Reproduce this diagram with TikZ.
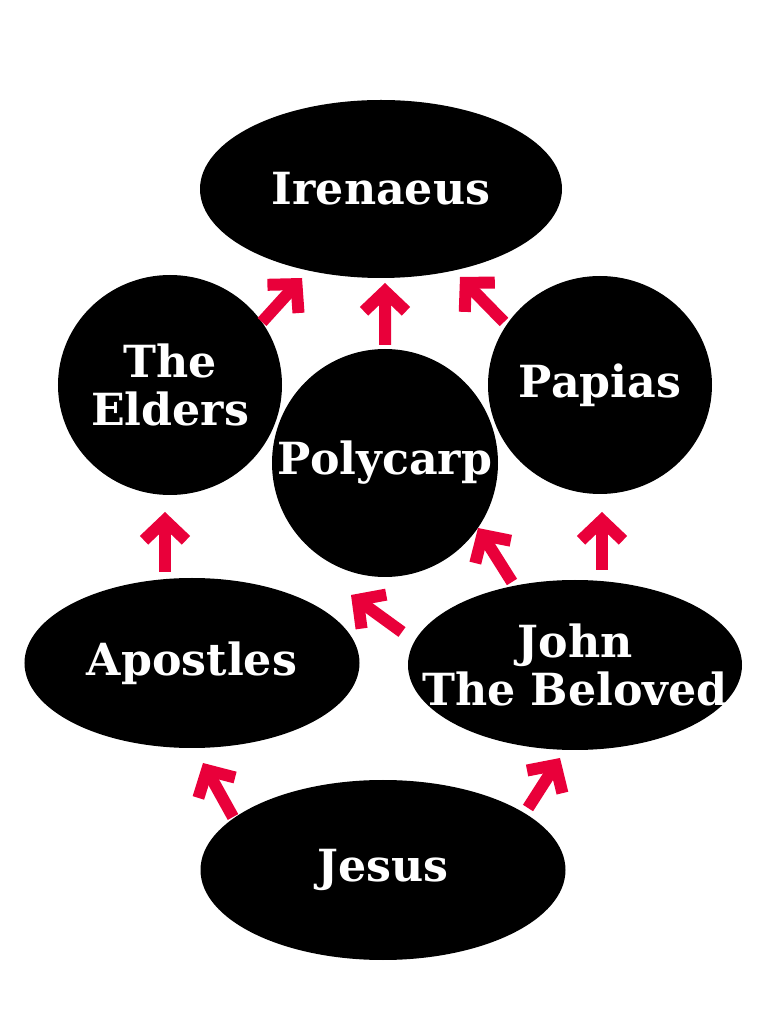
\documentclass[tikz,border=0pt]{standalone}
\usepackage{fontspec}
\setmainfont{DejaVu Serif}
\definecolor{linkred}{RGB}{233, 0, 58}
\usetikzlibrary{shapes.geometric, arrows.meta, calc}
\tikzset{
  person/.style={ellipse, fill=black, inner sep=0pt, outer sep=0pt},
  nametext/.style={text=white, align=center, inner sep=0pt,
    font=\fontsize{12.6}{13.7}\selectfont\bfseries},
  link/.style={draw=linkred, line width=0.12cm,
    -{Straight Barb[sharp, length=0.2cm, width=0.42cm]}}
}
\begin{document}
\begin{tikzpicture}
  \useasboundingbox (0, 0) rectangle (7.68, 10.24);

  % People
  \node[person, minimum width=3.62cm, minimum height=1.78cm, label={[nametext]center:Irenaeus}] (iren) at (3.81, 8.35) {};
  \node[person, minimum width=2.24cm, minimum height=2.20cm, label={[nametext]center:The\\Elders}] (elders) at (1.70, 6.39) {};
  \node[person, minimum width=2.24cm, minimum height=2.18cm, label={[nametext]center:Papias}] (papias) at (6.00, 6.39) {};
  \node[person, minimum width=2.26cm, minimum height=2.28cm, label={[nametext]center:Polycarp}] (poly) at (3.85, 5.61) {};
  \node[person, minimum width=3.35cm, minimum height=1.70cm, label={[nametext]center:Apostles}] (apost) at (1.92, 3.61) {};
  \node[person, minimum width=3.34cm, minimum height=1.70cm, label={[nametext]center:John\\The Beloved}] (john) at (5.75, 3.59) {};
  \node[person, minimum width=3.65cm, minimum height=1.80cm, label={[nametext]center:Jesus}] (jesus) at (3.83, 1.54) {};

  % Links into Irenaeus
  \draw[link] ($(elders)+(0.92, 0.63)$) -- ($(iren)+(-0.79, -0.89)$);
  \draw[link] ($(poly)+(0, 1.18)$) -- ($(iren)+(0.04, -0.94)$);
  \draw[link] ($(papias)+(-0.96, 0.63)$) -- ($(iren)+(0.79, -0.88)$);

  % Middle row
  \draw[link] ($(apost)+(-0.27, 0.91)$) -- ($(elders)+(-0.05, -1.27)$);
  \draw[link] ($(john)+(-1.73, 0.33)$) -- ($(poly)+(-0.34, -1.32)$);
  \draw[link] ($(john)+(-0.63, 0.83)$) -- ($(poly)+(0.93, -0.65)$);
  \draw[link] ($(john)+(0.27, 0.95)$) -- ($(papias)+(0.02, -1.27)$);

  % From Jesus
  \draw[link] ($(jesus)+(-1.50, 0.53)$) -- ($(apost)+(0.11, -1.00)$);
  \draw[link] ($(jesus)+(1.45, 0.62)$) -- ($(john)+(-0.15, -0.93)$);
\end{tikzpicture}
\end{document}
